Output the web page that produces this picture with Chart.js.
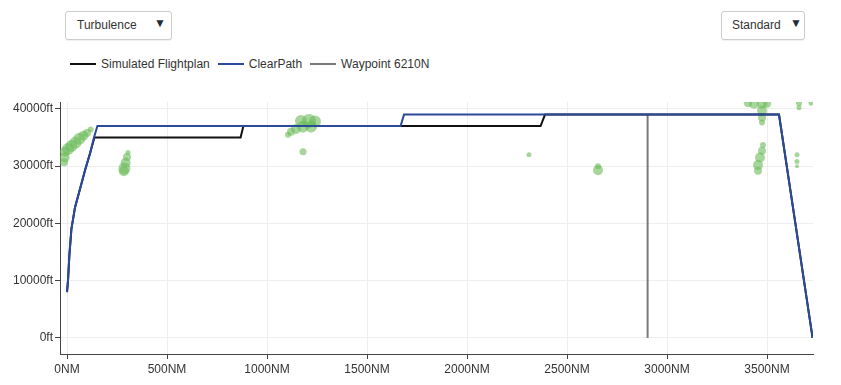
<!DOCTYPE html>
<html>
<head>
<meta charset="utf-8">
<script src="https://cdn.jsdelivr.net/npm/chart.js@4"></script>
<style>
  body { margin: 0; background: #fff; font-family: "Liberation Sans", Arial, sans-serif; }
  #wrap { position: relative; width: 841px; height: 385px; overflow: hidden; }
  #chart { position: absolute; left: 0; top: 0; }
  .select {
    position: absolute; top: 11px; height: 29px; box-sizing: border-box;
    border: 1px solid #ccc; border-radius: 3px; background: #fff;
    box-shadow: 0 1px 1px rgba(0,0,0,0.06);
    font-size: 12px; color: #333; line-height: 27px; padding-left: 11px;
  }
  .select .arrow { position: absolute; top: -2px; font-size: 12px; color: #1d2d3c; }
  #legend { position: absolute; left: 70px; top: 57px; display: flex; align-items: center; font-size: 12px; color: #333; }
  #legend .item { display: flex; align-items: center; margin-right: 8px; white-space: nowrap; }
  #legend .swatch { width: 26px; height: 2px; margin-right: 5px; }
</style>
</head>
<body>
<div id="wrap">
  <div class="select" style="left:65px;width:107px;">Turbulence<span class="arrow" style="left:88px;">&#9660;</span></div>
  <div class="select" style="left:721px;width:84px;padding-left:10px;">Standard<span class="arrow" style="left:68px;">&#9660;</span></div>
  <div id="legend"></div>
  <canvas id="chart" width="841" height="385"></canvas>
</div>
<script>
// ticks
const xTicks = [0, 500, 1000, 1500, 2000, 2500, 3000, 3500];
const yTicks = [0, 10000, 20000, 30000, 40000];

// flight profiles, {x: NM, y: ft}
const flightplan = [
  { x: 0, y: 8000 }, { x: 5, y: 10000 }, { x: 12, y: 14500 }, { x: 22, y: 19000 },
  { x: 40, y: 22800 }, { x: 65, y: 26000 }, { x: 92, y: 29500 }, { x: 115, y: 32200 },
  { x: 137, y: 35000 },
  { x: 868, y: 35000 }, { x: 882, y: 37000 }, { x: 2368, y: 37000 }, { x: 2390, y: 39000 },
  { x: 3560, y: 39000 }, { x: 3728, y: 0 }
];
const clearPath = [
  { x: 0, y: 8000 }, { x: 5, y: 10000 }, { x: 12, y: 14500 }, { x: 22, y: 19000 },
  { x: 40, y: 22800 }, { x: 65, y: 26000 }, { x: 92, y: 29500 }, { x: 115, y: 32200 },
  { x: 135, y: 35000 },
  { x: 152, y: 37000 }, { x: 1668, y: 37000 }, { x: 1685, y: 39000 },
  { x: 3560, y: 39000 }, { x: 3728, y: 0 }
];
const waypoint = [{ x: 2903, y: 0 }, { x: 2903, y: 39000 }];

// turbulence cells, r in px
const turbulence = [
  { x: -15, y: 30700, r: 4 }, { x: -12, y: 31500, r: 5 }, { x: -10, y: 32500, r: 5 },
  { x: 5, y: 33000, r: 6 }, { x: 22, y: 33500, r: 6 }, { x: 42, y: 34100, r: 6 },
  { x: 62, y: 34800, r: 6 }, { x: 82, y: 35300, r: 5 }, { x: 100, y: 35800, r: 4 },
  { x: 118, y: 36400, r: 3 },
  { x: 305, y: 32400, r: 2.5 }, { x: 300, y: 31600, r: 4 }, { x: 293, y: 30600, r: 5 },
  { x: 287, y: 29600, r: 6 }, { x: 284, y: 29100, r: 5 },
  { x: 1170, y: 37900, r: 6 }, { x: 1210, y: 37900, r: 7 }, { x: 1240, y: 37800, r: 6 },
  { x: 1180, y: 36900, r: 6 }, { x: 1220, y: 36900, r: 6 }, { x: 1145, y: 36500, r: 5 },
  { x: 1120, y: 36000, r: 4 }, { x: 1105, y: 35500, r: 3 }, { x: 1180, y: 32500, r: 3.5 },
  { x: 2310, y: 32000, r: 2.5 }, { x: 2655, y: 29300, r: 5 }, { x: 2655, y: 30000, r: 3 },
  { x: 3405, y: 41000, r: 4 }, { x: 3435, y: 40900, r: 5 }, { x: 3475, y: 40900, r: 5 },
  { x: 3500, y: 40900, r: 4 }, { x: 3475, y: 39700, r: 5 }, { x: 3475, y: 38500, r: 4 },
  { x: 3475, y: 37600, r: 3 },
  { x: 3480, y: 33700, r: 3 }, { x: 3475, y: 32700, r: 4 }, { x: 3465, y: 31500, r: 5 },
  { x: 3455, y: 30200, r: 5 }, { x: 3455, y: 29200, r: 4 },
  { x: 3660, y: 41000, r: 3 }, { x: 3660, y: 40200, r: 2.5 }, { x: 3720, y: 41000, r: 2.5 },
  { x: 3650, y: 32000, r: 2.5 }, { x: 3650, y: 30800, r: 2.5 }, { x: 3650, y: 30000, r: 2 }
];

const tickFont = { family: "Liberation Sans", size: 12 };

const htmlLegend = {
  id: "htmlLegend",
  afterUpdate(chart) {
    const box = document.getElementById("legend");
    box.innerHTML = "";
    chart.options.plugins.legend.labels.generateLabels(chart)
      .filter(item => item.text)
      .sort((a, b) => a.datasetIndex - b.datasetIndex)
      .forEach(item => {
        const el = document.createElement("div");
        el.className = "item";
        const sw = document.createElement("span");
        sw.className = "swatch";
        sw.style.background = item.strokeStyle;
        el.appendChild(sw);
        el.appendChild(document.createTextNode(item.text));
        box.appendChild(el);
      });
  }
};

new Chart(document.getElementById("chart"), {
  type: "scatter",
  data: {
    datasets: [
      {
        label: "Simulated Flightplan",
        data: flightplan,
        showLine: true,
        borderColor: "#111111",
        backgroundColor: "#111111",
        borderWidth: 2,
        pointRadius: 0,
        order: 1
      },
      {
        label: "ClearPath",
        data: clearPath,
        showLine: true,
        borderColor: "#2a4b9b",
        backgroundColor: "#2a4b9b",
        borderWidth: 2,
        pointRadius: 0,
        order: 0
      },
      {
        label: "Waypoint 6210N",
        data: waypoint,
        showLine: true,
        borderColor: "#7a7a7a",
        backgroundColor: "#7a7a7a",
        borderWidth: 2,
        pointRadius: 0,
        order: 2
      },
      {
        type: "bubble",
        label: "",
        data: turbulence,
        backgroundColor: "rgba(106,186,88,0.6)",
        borderWidth: 0,
        order: 3
      }
    ]
  },
  options: {
    responsive: false,
    animation: false,
    layout: { padding: { top: 102, right: 28, left: 0, bottom: 0 } },
    plugins: {
      legend: { display: false },
      tooltip: { enabled: false }
    },
    scales: {
      x: {
        type: "linear",
        min: -35,
        max: 3730,
        afterBuildTicks: s => { s.ticks = xTicks.map(v => ({ value: v })); },
        afterFit: s => { s.height = 31; },
        ticks: {
          callback: v => v + "NM",
          font: tickFont,
          color: "#333",
          padding: 3,
          maxRotation: 0,
          autoSkip: false
        },
        grid: { color: "#eeeeee", tickLength: 5, tickColor: "#444" },
        border: { color: "#444", width: 1 }
      },
      y: {
        type: "linear",
        min: -2800,
        max: 41200,
        afterBuildTicks: s => { s.ticks = yTicks.map(v => ({ value: v })); },
        afterFit: s => { s.width = 60; },
        ticks: {
          callback: v => v + "ft",
          font: tickFont,
          color: "#333",
          padding: 2
        },
        grid: { color: "#eeeeee", tickLength: 5, tickColor: "#444" },
        border: { color: "#444", width: 1 }
      }
    }
  },
  plugins: [htmlLegend]
});
</script>
</body>
</html>
